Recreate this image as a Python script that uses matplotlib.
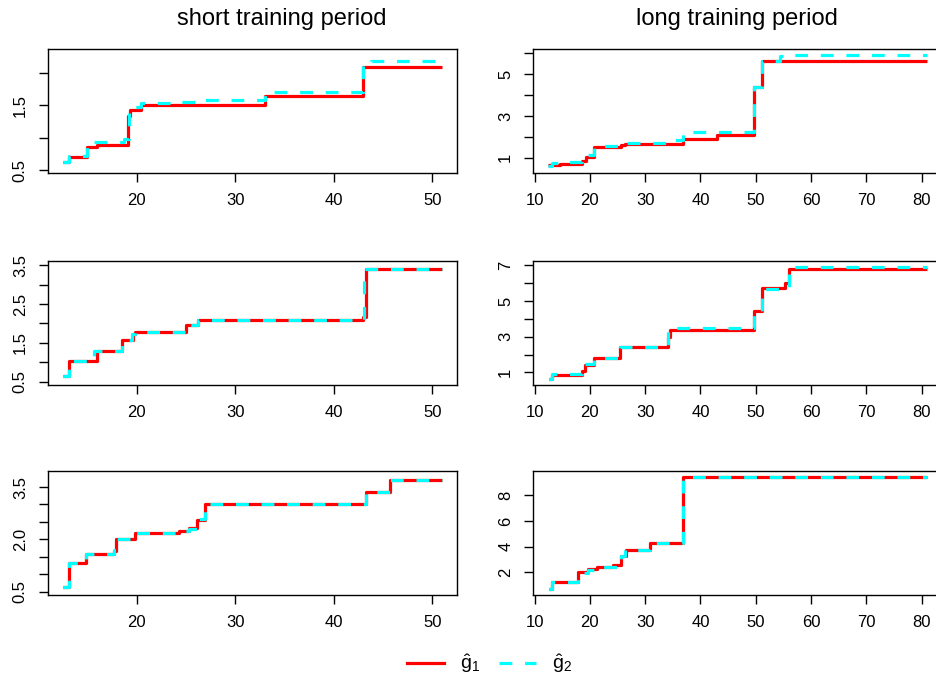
import matplotlib
matplotlib.use("Agg")
import matplotlib.pyplot as plt
from matplotlib.lines import Line2D

plt.rcParams['font.family'] = ['Liberation Sans', 'DejaVu Sans']
plt.rcParams['mathtext.fontset'] = 'custom'
plt.rcParams['mathtext.rm'] = 'Liberation Sans'
plt.rcParams['mathtext.it'] = 'Liberation Sans'

# step functions: (x, g1) red, (x, g2) cyan
tl_x1 = [12.5, 13.15, 14.95, 16.0, 19.15, 19.35, 20.4, 33.05, 42.95, 51.0]
tl_y1 = [0.62, 0.70, 0.855, 0.88, 1.34, 1.42, 1.50, 1.65, 2.09, 2.09]
tl_x2 = [12.5, 13.15, 14.95, 15.7, 18.7, 19.2, 20.4, 23.5, 26.0, 33.05, 42.95, 43.8, 51.0]
tl_y2 = [0.62, 0.71, 0.86, 0.94, 0.985, 1.47, 1.53, 1.555, 1.585, 1.70, 2.12, 2.19, 2.19]

tr_x1 = [12.5, 14.5, 18.5, 19.3, 20.8, 25.7, 26.3, 36.8, 42.9, 49.7, 51.1, 81.0]
tr_y1 = [0.66, 0.72, 0.85, 1.05, 1.51, 1.60, 1.65, 1.90, 2.08, 4.40, 5.65, 5.65]
tr_x2 = [12.5, 13.1, 15.8, 18.5, 19.1, 20.8, 25.7, 34.4, 36.8, 49.7, 51.1, 54.4, 55.7, 81.0]
tr_y2 = [0.60, 0.75, 0.80, 0.88, 1.12, 1.55, 1.73, 1.84, 2.24, 4.40, 5.65, 5.86, 5.90, 5.90]

ml_x1 = [12.5, 13.15, 16.0, 18.5, 19.6, 19.8, 25.0, 26.2, 43.0, 43.3, 51.0]
ml_y1 = [0.63, 1.04, 1.28, 1.58, 1.73, 1.79, 1.95, 2.10, 2.16, 3.40, 3.40]
ml_x2 = [12.5, 13.15, 15.7, 18.5, 19.5, 19.8, 25.2, 26.2, 43.1, 51.0]
ml_y2 = [0.63, 1.04, 1.28, 1.56, 1.72, 1.79, 1.97, 2.10, 3.40, 3.40]

mr_x1 = [12.6, 13.1, 18.5, 19.1, 20.8, 25.5, 34.2, 34.4, 49.7, 51.2, 55.3, 56.1, 81.0]
mr_y1 = [0.62, 0.87, 1.06, 1.43, 1.81, 2.41, 2.97, 3.40, 4.43, 5.73, 6.03, 6.78, 6.78]
mr_x2 = [12.6, 13.1, 18.5, 19.1, 20.8, 25.5, 34.2, 49.7, 51.2, 56.1, 81.0]
mr_y2 = [0.62, 0.90, 1.00, 1.45, 1.81, 2.41, 3.47, 4.43, 5.69, 6.91, 6.91]

bl_x1 = [12.5, 13.15, 14.9, 17.7, 17.9, 19.8, 24.3, 25.3, 26.1, 26.9, 43.3, 45.7, 51.0]
bl_y1 = [0.64, 1.33, 1.57, 1.67, 2.00, 2.19, 2.24, 2.31, 2.55, 3.02, 3.36, 3.71, 3.71]
bl_x2 = [12.5, 13.15, 14.9, 17.7, 17.9, 19.8, 24.3, 25.3, 26.1, 26.9, 43.3, 45.7, 51.0]
bl_y2 = [0.64, 1.33, 1.57, 1.68, 2.00, 2.19, 2.24, 2.30, 2.57, 3.02, 3.36, 3.71, 3.71]

br_x1 = [12.6, 13.1, 17.9, 19.7, 21.2, 24.2, 25.7, 26.5, 30.8, 36.8, 81.0]
br_y1 = [0.68, 1.22, 2.00, 2.26, 2.44, 2.57, 3.27, 3.73, 4.30, 9.42, 9.42]
br_x2 = [12.6, 13.1, 17.9, 19.7, 21.2, 25.6, 26.3, 30.8, 36.8, 81.0]
br_y2 = [0.68, 1.22, 1.95, 2.20, 2.44, 3.30, 3.73, 4.30, 9.42, 9.42]

left_xticks = [20, 30, 40, 50]
right_xticks = [10, 20, 30, 40, 50, 60, 70, 80]

W, H = 936, 680
fig = plt.figure(figsize=(W / 100, H / 100), dpi=100)

panels = [
    # (left px, top px, x1, y1, x2, y2, xlim, ylim, yticks, ylabels, xticks)
    (48, 49, tl_x1, tl_y1, tl_x2, tl_y2, (11.0, 52.5), (0.454, 2.37),
     [0.5, 1.0, 1.5, 2.0], ['0.5', '', '1.5', ''], left_xticks),
    (533.3, 49, tr_x1, tr_y1, tr_x2, tr_y2, (9.76, 83.74), (0.27, 6.21),
     [1, 2, 3, 4, 5, 6], ['1', '', '3', '', '5', ''], right_xticks),
    (48, 261, ml_x1, ml_y1, ml_x2, ml_y2, (11.0, 52.5), (0.41, 3.61),
     [0.5, 1.0, 1.5, 2.0, 2.5, 3.0, 3.5], ['0.5', '', '1.5', '', '2.5', '', '3.5'], left_xticks),
    (533.3, 261, mr_x1, mr_y1, mr_x2, mr_y2, (9.76, 83.74), (0.29, 7.25),
     [1, 2, 3, 4, 5, 6, 7], ['1', '', '3', '', '5', '', '7'], right_xticks),
    (48, 471, bl_x1, bl_y1, bl_x2, bl_y2, (11.0, 52.5), (0.40, 3.96),
     [0.5, 1.0, 1.5, 2.0, 2.5, 3.0, 3.5], ['0.5', '', '', '2.0', '', '', '3.5'], left_xticks),
    (533.3, 471, br_x1, br_y1, br_x2, br_y2, (9.76, 83.74), (0.24, 9.89),
     [2, 4, 6, 8], ['2', '4', '6', '8'], right_xticks),
]

pw, ph = 409, 124
for left, top, x1, y1, x2, y2, xl, yl, yt, ylab, xt in panels:
    ax = fig.add_axes([left / W, 1 - (top + ph) / H, pw / W, ph / H])
    ax.step(x1, y1, where='post', color='#FF0000', lw=2.3, solid_capstyle='butt')
    ax.step(x2, y2, where='post', color='#00FFFF', lw=2.3, linestyle=(0, (4, 4)))
    ax.set_xlim(xl)
    ax.set_ylim(yl)
    ax.set_xticks(xt)
    ax.set_yticks(yt)
    ax.set_yticklabels(ylab, rotation=90, va='center')
    ax.tick_params(direction='out', length=6.5, width=1, labelsize=12, pad=8)
    for s in ax.spines.values():
        s.set_linewidth(1)

fig.text(282 / W, 1 - 19 / H, 'short training period', ha='center', va='center', fontsize=17)
fig.text(737 / W, 1 - 19 / H, 'long training period', ha='center', va='center', fontsize=17)

handles = [Line2D([], [], color='#FF0000', lw=2.3),
           Line2D([], [], color='#00FFFF', lw=2.3, linestyle=(0, (4, 4)))]
fig.legend(handles, [r'$\mathrm{\hat{g}}_1$', r'$\mathrm{\hat{g}}_2$'], loc='center',
           bbox_to_anchor=(0.523, 1 - 664 / H), ncol=2, frameon=False, fontsize=14,
           handlelength=1.9, columnspacing=1.0, handletextpad=0.8)

fig.savefig('out.png', dpi=100)
